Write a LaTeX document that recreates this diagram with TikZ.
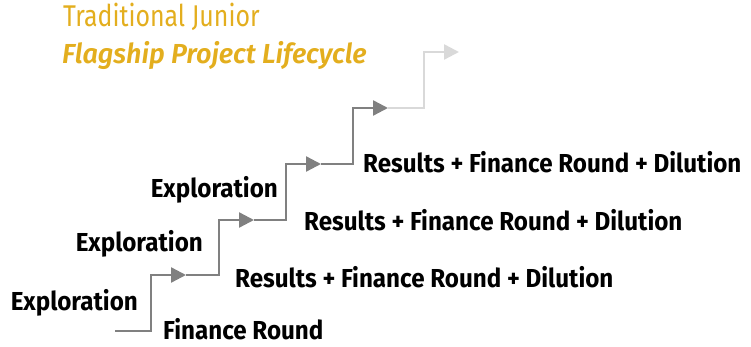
\documentclass[tikz,border=0pt]{standalone}
\usepackage{fontspec}
\setmainfont{Fira Sans}
\newfontfamily\stepfont{Fira Sans Bold}[FakeStretch=0.93]
\newfontfamily\headfont{Fira Sans}[FakeStretch=0.83]
\newfontfamily\headitfont{Fira Sans SemiBold Italic}[FakeStretch=0.98]
\usepackage{xcolor}
\usepackage{tikz}
\usetikzlibrary{arrows.meta, positioning}

\definecolor{stairgray}{HTML}{808080}
\definecolor{fadegray}{HTML}{D9D9D9}
\definecolor{gold}{HTML}{E3AE1E}

\begin{document}
\begin{tikzpicture}[x=1pt, y=-1pt,
    stair/.style={draw=stairgray, line width=2.4pt, -{Triangle[length=15pt, width=15pt]}},
    phase/.style={inner sep=0pt, font=\stepfont\fontsize{26}{26}\selectfont},
    head/.style={inner sep=0pt, text=gold, anchor=base west}
]
\useasboundingbox (0,0) rectangle (751,347);

\coordinate (tip0) at (115,331);
\foreach \i/\x/\lo/\hi in {1/151/331/275, 2/219/275/220, 3/286/220/164, 4/353/164/108, 5/424/108/52} {
    \coordinate (r\i) at (\x,\lo);
    \coordinate (tip\i) at (\x+35,\hi);
}
\foreach \i [evaluate=\i as \k using int(\i-1)] in {1,...,4}
    \draw[stair] (tip\k) -- (r\i) |- (tip\i);
\draw[stair, draw=fadegray] (tip4) -- (r5) |- (tip5);

\node[phase, anchor=base east] (expl1) at (138,310) {Exploration};
\node[phase, anchor=base east] (expl2) at (203,251) {Exploration};
\node[phase, anchor=base east] (expl3) at (278,197) {Exploration};
\node[phase, anchor=base west] (fin) at (163,339) {Finance Round};
\node[phase, anchor=base west] (res1) at (235,287) {Results + Finance Round + Dilution};
\node[phase, anchor=base west] (res2) at (304,230) {Results + Finance Round + Dilution};
\node[phase, anchor=base west] (res3) at (363,173) {Results + Finance Round + Dilution};

\node[head, font=\headfont\fontsize{30}{30}\selectfont] (trad) at (63,27) {Traditional Junior};
\node[head, font=\headitfont\fontsize{27.5}{27.5}\selectfont] (flag) at (62,64) {Flagship Project Lifecycle};
\end{tikzpicture}
\end{document}
